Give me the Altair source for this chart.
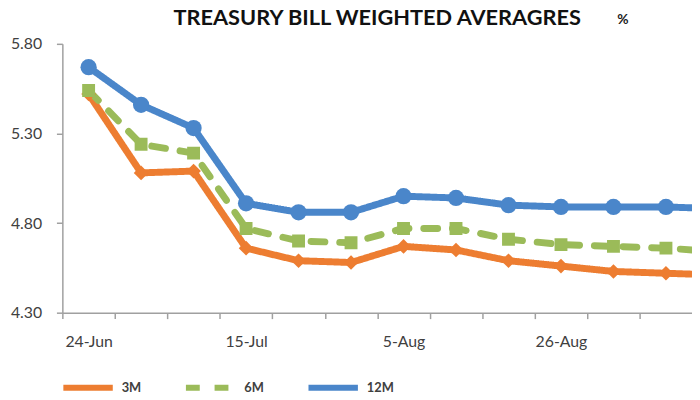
import altair as alt
import pandas as pd

# ---- data ----
dates = ["24-Jun", "1-Jul", "8-Jul", "15-Jul", "22-Jul", "29-Jul", "5-Aug",
         "12-Aug", "19-Aug", "26-Aug", "2-Sep", "9-Sep", "16-Sep"]
series = ["3M", "6M", "12M"]
v3m = [5.52, 5.08, 5.09, 4.66, 4.59, 4.58, 4.67, 4.65, 4.59, 4.56, 4.53, 4.52, 4.51]
v6m = [5.54, 5.24, 5.19, 4.77, 4.70, 4.69, 4.77, 4.77, 4.71, 4.68, 4.67, 4.66, 4.64]
v12m = [5.67, 5.46, 5.33, 4.91, 4.86, 4.86, 4.95, 4.94, 4.90, 4.89, 4.89, 4.89, 4.88]
y_ticks = [4.30, 4.80, 5.30, 5.80]
title_text = "TREASURY BILL WEIGHTED AVERAGRES"
unit_text = ["%"]

# ---- styles ----
colors = ["#ED7D31", "#9BBB59", "#4A86CA"]
shapes = ["diamond", "square", "circle"]
sizes = [220, 170, 270]
dashes = [[1, 0], [14, 15], [1, 0]]
FONT = "Lato"
AXIS_GRAY = "#A0A0A0"
TEXT = "#404040"

rows = []
for s, vals in zip(series, [v3m, v6m, v12m]):
    for i, (d, v) in enumerate(zip(dates, vals)):
        rows.append({"idx": i, "date": d, "series": s, "value": v})
df = pd.DataFrame(rows)

n = len(dates)
tick_vals = [i - 0.5 for i in range(n - 1)]
label_vals = [i for i in range(0, n - 1, 3)]
labels_js = "[" + ",".join("'" + d + "'" for d in dates) + "]"
label_expr = f"{labels_js}[round(datum.value)]"

W = 637
H = 272
step = 53.1
x_max = W / step - 0.5
x_scale = alt.Scale(domain=[-0.5, x_max], nice=False, zero=False)
y_scale = alt.Scale(domain=[4.30, 5.80], nice=False, zero=False)

x_ticks_axis = alt.Axis(values=tick_vals, labels=False, title=None, grid=False,
                        tickSize=6, orient="bottom")
x_label_axis = alt.Axis(values=label_vals, labelExpr=label_expr, title=None,
                        grid=False, ticks=False, domain=False, orient="bottom",
                        labelPadding=21, labelOverlap=False, labelFlush=False,
                        labelBound=False, labelFontSize=16)
y_axis = alt.Axis(values=y_ticks, format=".2f", title=None, grid=False,
                  tickSize=6, labelPadding=15, labelFontSize=16)

lines = alt.Chart(df).mark_line(strokeWidth=7, strokeCap="round",
                                strokeJoin="round", clip=True).encode(
    x=alt.X("idx:Q", scale=x_scale, axis=x_ticks_axis),
    y=alt.Y("value:Q", scale=y_scale, axis=y_axis),
    color=alt.Color("series:N", scale=alt.Scale(domain=series, range=colors),
                    legend=alt.Legend(title=None, orient="none", legendX=-2,
                                      legendY=320, direction="horizontal",
                                      symbolType="stroke", symbolSize=2500,
                                      symbolStrokeWidth=6, labelFont=FONT,
                                      labelFontSize=13, labelFontWeight="bold",
                                      labelColor=TEXT, labelOffset=6,
                                      columnPadding=33)),
    strokeDash=alt.StrokeDash("series:N",
                              scale=alt.Scale(domain=series, range=dashes),
                              legend=alt.Legend(title=None)),
)

layers = [lines]
for k, (s, c, sh, sz) in enumerate(zip(series, colors, shapes, sizes)):
    pts = alt.Chart(df).transform_filter(alt.datum.series == s).mark_point(
        filled=True, opacity=1, clip=True).encode(
        x=alt.X("idx:Q", scale=x_scale,
                axis=x_label_axis if k == 0 else None),
        y=alt.Y("value:Q", scale=y_scale, axis=y_axis),
        color=alt.value(c), shape=alt.value(sh), size=alt.value(sz))
    layers.append(pts)

unit = alt.Chart(pd.DataFrame({"t": unit_text})).mark_text(
    font=FONT, fontSize=14, fontWeight="bold", color="#222222",
    baseline="middle", align="center").encode(
    text="t:N", x=alt.value(567), y=alt.value(-24))
layers.append(unit)

chart = alt.layer(*layers).resolve_axis(x="independent").properties(
    width=W, height=H,
    autosize=alt.AutoSizeParams(type="none"),
    padding={"left": 55, "top": 34, "right": 0, "bottom": 80},
    title=alt.TitleParams(title_text, font=FONT, fontSize=22, fontWeight="bold",
                          color="#111111", anchor="middle", frame="group",
                          offset=-17),
).configure_view(stroke=None).configure_axis(
    domainColor=AXIS_GRAY, tickColor=AXIS_GRAY, labelColor=TEXT, labelFont=FONT,
    domainWidth=1.5, tickWidth=1.5,
)

chart.save("out.html", embed_options={"renderer": "svg", "actions": False})
